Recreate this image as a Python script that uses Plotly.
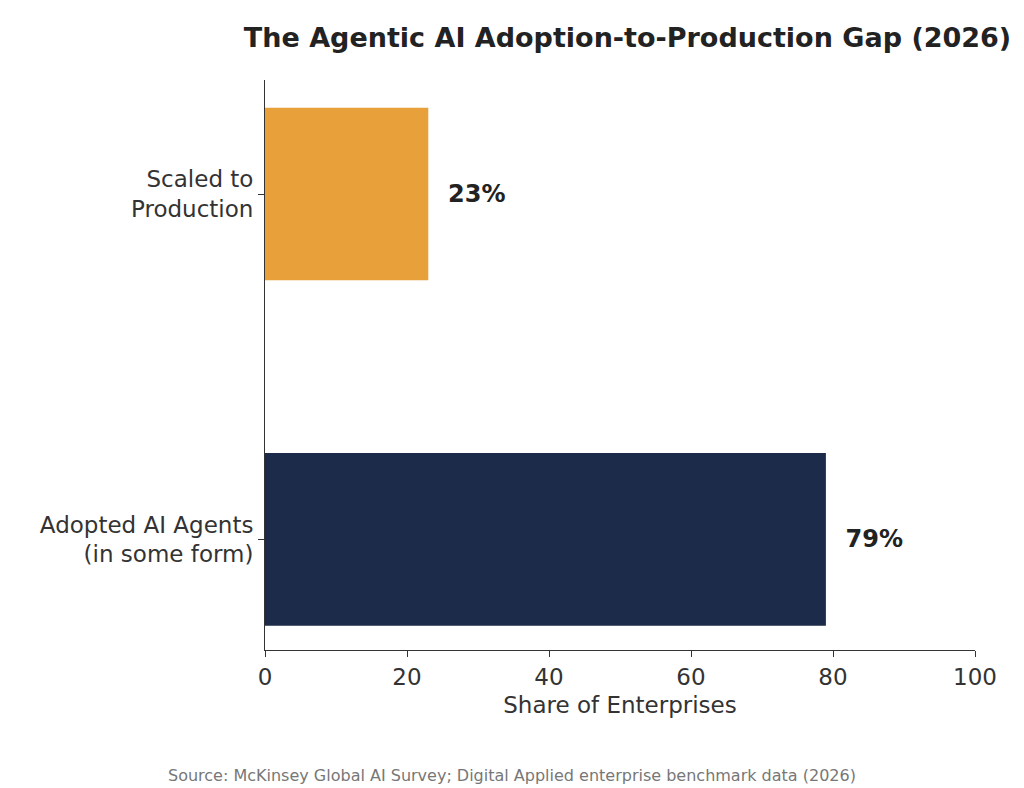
import plotly.graph_objects as go

categories = ["Adopted AI Agents<br>(in some form)", "Scaled to<br>Production"]
values = [79, 23]
bar_colors = ["#1c2b4a", "#e8a03b"]
labels = ["  79%", "  23%"]

fig = go.Figure()
fig.add_trace(go.Bar(
    y=categories, x=values, orientation="h", width=0.5,
    marker=dict(color=bar_colors, line=dict(width=0)),
    text=labels, textposition="outside", cliponaxis=False,
    textfont=dict(family="DejaVu Sans", size=24, color="#222222", weight="bold"),
))

fig.update_layout(
    width=1024, height=788,
    paper_bgcolor="white", plot_bgcolor="white",
    margin=dict(l=257, r=57, t=72, b=146),
    font=dict(family="DejaVu Sans", color="#333333"),
    showlegend=False,
    title=dict(text="<b>The Agentic AI Adoption-to-Production Gap (2026)</b>",
               x=0.605, xanchor="center", y=0.962, yanchor="middle",
               font=dict(size=27, color="#222222")),
    xaxis=dict(range=[0, 100], tickvals=[0, 20, 40, 60, 80, 100],
               showgrid=False, zeroline=False, showline=True, linecolor="#333333",
               ticks="outside", ticklen=6, tickcolor="#333333",
               tickfont=dict(size=23, color="#333333"),
               title=dict(text="Share of Enterprises", font=dict(size=23, color="#333333"), standoff=8)),
    yaxis=dict(range=[-0.32, 1.33], showgrid=False, zeroline=False,
               showline=True, linecolor="#333333",
               ticks="outside", ticklen=6, tickcolor="#333333",
               tickfont=dict(size=23, color="#333333")),
)
fig.add_annotation(text="Source: McKinsey Global AI Survey; Digital Applied enterprise benchmark data (2026)",
                   xref="paper", yref="paper", x=(504 - 257) / 710, y=-(767 - 642) / 570,
                   showarrow=False, xanchor="center", yanchor="middle",
                   font=dict(size=16, color="#777777"))

fig.write_html("out.html")
